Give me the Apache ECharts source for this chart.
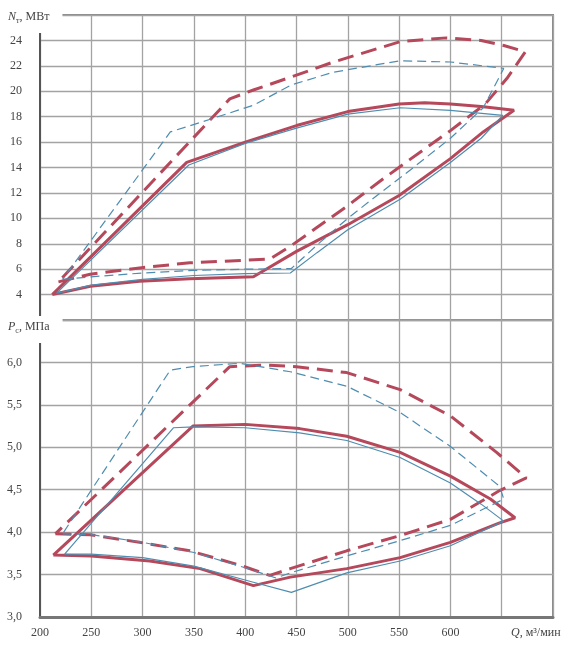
<!DOCTYPE html>
<html><head><meta charset="utf-8">
<script src="https://cdn.jsdelivr.net/npm/echarts@6/dist/echarts.min.js"></script>
<style>html,body{margin:0;padding:0;background:#fff}#c{width:571px;height:645px}</style>
</head><body><div id="c"></div>
<script>
// X axis: Q, m3/min
const xTickLabels = [200, 250, 300, 350, 400, 450, 500, 550, 600];
// Top panel: N_t, MW  (contours: [Q, N])
const nRedSolid = [[212,4.0],[249,4.65],[297,5.05],[346,5.24],[408,5.40],[450,7.4],[500,9.5],[550,11.8],[600,14.7],[632,16.8],[662,18.5],[630,18.8],[600,19.0],[575,19.1],[550,19.0],[500,18.4],[450,17.3],[400,16.0],[343,14.4],[212,4.0]];
const nBlueSolid = [[216,4.1],[250,4.75],[300,5.2],[350,5.5],[400,5.65],[444,5.7],[470,7.3],[500,9.1],[551,11.5],[600,14.4],[630,16.3],[651,18.1],[600,18.5],[551,18.7],[500,18.2],[450,17.1],[400,15.9],[345,14.2],[216,4.1]];
const nRedDash = [[218,5.0],[249,5.6],[297,6.1],[346,6.5],[424,6.8],[444,7.8],[500,11.0],[531,12.9],[560,14.6],[600,16.9],[634,19.0],[655,21.0],[673,23.1],[652,23.6],[630,24.0],[596,24.2],[551,23.9],[486,22.3],[444,21.1],[408,20.1],[385,19.4],[218,5.0]];
const nBlueDash = [[222,5.2],[250,5.4],[300,5.7],[350,5.9],[400,6.0],[445,6.05],[470,7.9],[500,10.0],[530,11.9],[564,14.0],[600,16.3],[632,18.7],[652,21.8],[600,22.3],[551,22.4],[486,21.5],[445,20.5],[408,18.9],[366,17.8],[327,16.8],[222,5.2]];
// Bottom panel: P_c, MPa (contours: [Q, P])
const pRedSolid = [[213,3.73],[250,3.72],[307,3.66],[356,3.57],[408,3.37],[444,3.47],[499,3.57],[551,3.70],[600,3.88],[648,4.11],[663,4.17],[639,4.39],[600,4.66],[551,4.94],[499,5.13],[453,5.22],[400,5.27],[349,5.25],[213,3.73]];
const pBlueSolid = [[224,3.74],[250,3.74],[300,3.70],[350,3.60],[408,3.41],[445,3.29],[499,3.52],[551,3.66],[600,3.84],[652,4.13],[630,4.33],[600,4.58],[551,4.88],[499,5.08],[453,5.17],[400,5.23],[350,5.24],[330,5.23],[224,3.74]];
const pRedDash = [[215,3.98],[249,3.97],[297,3.88],[346,3.78],[395,3.61],[424,3.49],[444,3.57],[499,3.78],[551,3.96],[600,4.15],[648,4.49],[674,4.64],[645,4.94],[600,5.37],[551,5.68],[499,5.88],[450,5.95],[420,5.97],[385,5.95],[215,3.98]];
const pBlueDash = [[222,3.98],[250,3.97],[300,3.88],[350,3.76],[400,3.58],[430,3.46],[444,3.52],[499,3.72],[551,3.90],[600,4.08],[652,4.39],[648,4.54],[600,5.01],[551,5.41],[499,5.72],[444,5.89],[395,5.99],[349,5.95],[327,5.91],[222,3.98]];

const FONT = 'Liberation Serif';
const RED = '#b5485b', BLUE = '#4f8db0';
const gridLine = {lineStyle:{color:'#a3a3a3', width:1.3}};
const lbl = {fontFamily:FONT, fontSize:12, color:'#444'};

function line(data, xi, color, width, dash, z) {
  return {type:'line', xAxisIndex:xi, yAxisIndex:xi, data:data, showSymbol:false, symbol:'none',
    lineStyle:{color:color, width:width, type:dash||'solid'}, z:z, animation:false, silent:true};
}
const richName = {
  i:{fontFamily:FONT,fontStyle:'italic',fontWeight:'normal',fontSize:12,color:'#444',lineHeight:16},
  s:{fontFamily:FONT,fontWeight:'normal',fontSize:8,color:'#444',verticalAlign:'bottom',lineHeight:16},
  r:{fontFamily:FONT,fontWeight:'normal',fontSize:12,color:'#444',lineHeight:16}
};

const chart = echarts.init(document.getElementById('c'), null, {renderer:'canvas'});
chart.setOption({
  backgroundColor:'#fff',
  animation:false,
  title:[
    {text:'{i|N}{s|т}{r|, МВт}', left:4, top:4, padding:[5,13,8,4], backgroundColor:'#fff',
     textStyle:{fontWeight:'normal', rich:richName}},
    {text:'{i|P}{s|с}{r|, МПа}', left:4, top:314, padding:[5,13,8,4], backgroundColor:'#fff',
     textStyle:{fontWeight:'normal', rich:richName}}
  ],
  grid:[
    {left:40, right:18, top:15, height:305, show:true, borderColor:'#8a8a8a', borderWidth:2},
    {left:40, right:18, top:320, height:297, show:true, borderColor:'#8a8a8a', borderWidth:2}
  ],
  xAxis:[
    {gridIndex:0, type:'value', min:200, max:700, interval:50, axisLine:{show:false}, axisTick:{show:false},
     axisLabel:{show:false}, splitLine:gridLine},
    {gridIndex:1, type:'value', min:200, max:700, interval:50,
     axisLine:{show:true, onZero:false, lineStyle:{color:'#777', width:3}}, axisTick:{show:false},
     axisLabel:Object.assign({margin:10, formatter:v => xTickLabels.indexOf(v) >= 0 ? String(v) : ''}, lbl),
     splitLine:gridLine,
     name:'{i|Q}, м³/мин', nameLocation:'end', nameGap:-42,
     nameTextStyle:Object.assign({verticalAlign:'top', padding:[10,0,0,0],
       rich:{i:{fontFamily:FONT,fontStyle:'italic',fontSize:12,color:'#444'}}}, lbl)}
  ],
  yAxis:[
    {gridIndex:0, type:'value', min:2, max:26, interval:2,
     axisLine:{show:true, lineStyle:{color:'#555', width:2}}, axisTick:{show:false},
     axisLabel:Object.assign({margin:18, formatter:v => (v===2||v===26) ? '' : String(v)}, lbl),
     splitLine:gridLine},
    {gridIndex:1, type:'value', min:3, max:6.5, interval:0.5,
     axisLine:{show:true, lineStyle:{color:'#555', width:2}}, axisTick:{show:false},
     axisLabel:Object.assign({margin:18, formatter:v => (Math.abs(v-6.5)<1e-6) ? '' : v.toFixed(1).replace('.', ',')}, lbl),
     splitLine:gridLine}
  ],
  series:[
    line(nRedSolid, 0, RED, 3, 'solid', 2),
    line(nRedDash, 0, RED, 3, [16,8], 2),
    line(nBlueSolid, 0, BLUE, 1.2, 'solid', 3),
    line(nBlueDash, 0, BLUE, 1.2, [9,5], 3),
    line(pRedSolid, 1, RED, 3, 'solid', 2),
    line(pRedDash, 1, RED, 3, [16,8], 2),
    line(pBlueSolid, 1, BLUE, 1.2, 'solid', 3),
    line(pBlueDash, 1, BLUE, 1.2, [9,5], 3)
  ]
});
</script></body></html>
